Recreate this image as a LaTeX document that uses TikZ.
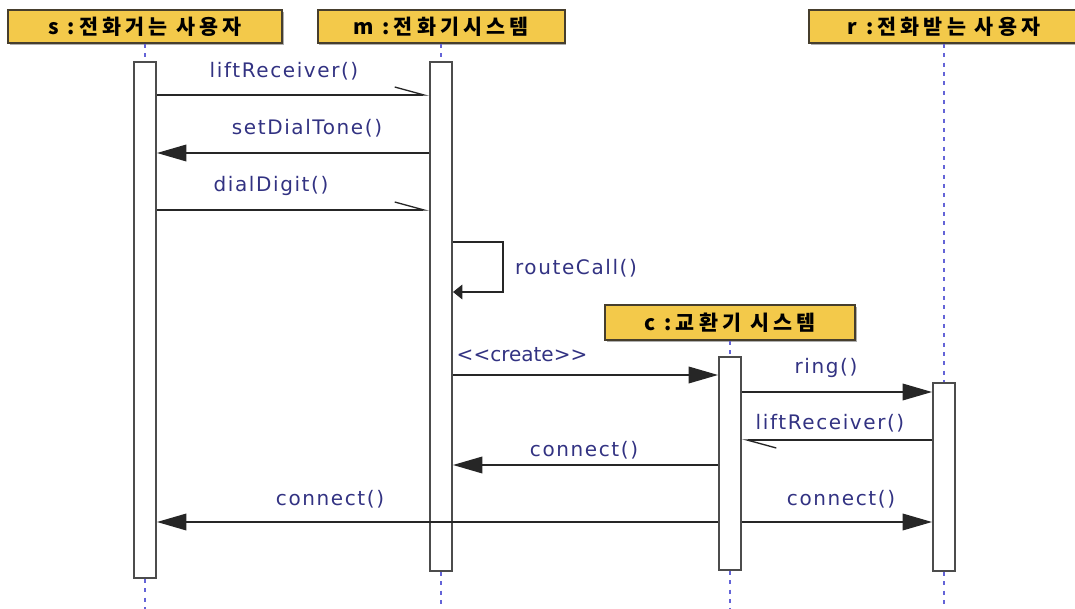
\documentclass[tikz,border=0pt]{standalone}
\usepackage{fontspec}
\setmainfont{DejaVu Sans}[LetterSpace=8]
\newfontfamily\hangulfont{Noto Sans CJK KR}[LetterSpace=20]
\usetikzlibrary{arrows.meta}
\usetikzlibrary{shadows}
\definecolor{boxyellow}{RGB}{243,201,74}
\definecolor{boxedge}{RGB}{70,62,45}
\definecolor{lifeblue}{RGB}{100,100,215}
\definecolor{msgblue}{RGB}{50,50,130}
\tikzstyle{ObjBox}=[rectangle, draw=boxedge, line width=1.5pt, fill=boxyellow, minimum height=24.75pt, inner sep=0pt, font=\hangulfont\bfseries\fontsize{15.5}{16}\selectfont, drop shadow={shadow xshift=1.2pt, shadow yshift=-1.2pt, fill=black!45, opacity=0.7}]
\tikzstyle{ActBar}=[rectangle, draw=black!70, line width=1.5pt, fill=white, minimum width=16.5pt, inner sep=0pt]
\tikzstyle{LifeLine}=[line width=1.6pt, lifeblue, dash pattern=on 3pt off 4pt]
\tikzstyle{SyncEdge}=[line width=1pt, black!85, -{Triangle[length=22pt,width=12.5pt]}]
\tikzstyle{AsyncEdge}=[line width=1pt, black!85, -{Straight Barb[harpoon,length=22pt,width=12pt]}]
\tikzstyle{SelfEdge}=[SyncEdge, -{Triangle[length=7pt,width=11pt]}]
\tikzstyle{MsgLabel}=[text=msgblue, inner sep=0pt, font=\fontsize{15}{16}\selectfont]
\tikzset{>=latex}

\begin{document}
\begin{tikzpicture}[x=0.75pt, y=-0.75pt]
\useasboundingbox (0,0) rectangle (1075,609);
\node[ObjBox, minimum width=205.5pt](sHead) at (145,26.5) {s :전화거는 사용자};
\node[ObjBox, minimum width=185.25pt](mHead) at (441,26.5) {m :전화기시스템};
\node[ObjBox, minimum width=202.5pt](rHead) at (944,26.5) {r :전화받는 사용자};
\node[ObjBox, minimum width=187.5pt, minimum height=26.25pt](cHead) at (730,322.5) {c :교환기 시스템};

\coordinate (sEnd) at (145,609);
\coordinate (mEnd) at (441,609);
\coordinate (cEnd) at (730,609);
\coordinate (rEnd) at (944,609);

\node[ActBar, minimum height=387pt](sBar) at (145,320) {};
\node[ActBar, minimum height=381.75pt](mBar) at (441,316.5) {};
\node[ActBar, minimum height=159.75pt](cBar) at (730,463.5) {};
\node[ActBar, minimum height=141pt](rBar) at (944,477) {};

\draw[LifeLine](sHead.south) -- (sBar.north);
\draw[LifeLine](sBar.south) -- (sEnd);
\draw[LifeLine](mHead.south) -- (mBar.north);
\draw[LifeLine](mBar.south) -- (mEnd);
\draw[LifeLine](cHead.south) -- (cBar.north);
\draw[LifeLine](cBar.south) -- (cEnd);
\draw[LifeLine](rHead.south) -- (rBar.north);
\draw[LifeLine](rBar.south) -- (rEnd);

\draw[AsyncEdge](sBar.east |- 0,95) -- (mBar.west |- 0,95);
\node[MsgLabel](m1) at (284,71) {liftReceiver()};
\draw[SyncEdge](mBar.west |- 0,153) -- (sBar.east |- 0,153);
\node[MsgLabel](m2) at (307,128) {setDialTone()};
\draw[AsyncEdge](sBar.east |- 0,210) -- (mBar.west |- 0,210);
\node[MsgLabel](m3) at (271,186) {dialDigit()};
\draw[SelfEdge](mBar.east |- 0,242) -- ++(50,0) -- ++(0,50) -- (mBar.east |- 0,292);
\node[MsgLabel](m4) at (576,268) {routeCall()};
\draw[SyncEdge](mBar.east |- 0,375) -- (cBar.west |- 0,375);
\node[MsgLabel, font=\fontsize{15}{16}\selectfont\addfontfeatures{LetterSpace=0}](m5) at (522,355) {<{}<create>{}>};
\draw[SyncEdge](cBar.east |- 0,392) -- (rBar.west |- 0,392);
\node[MsgLabel](m6) at (826,368) {ring()};
\draw[AsyncEdge](rBar.west |- 0,440) -- (cBar.east |- 0,440);
\node[MsgLabel](m7) at (830,423) {liftReceiver()};
\draw[SyncEdge](cBar.west |- 0,465) -- (mBar.east |- 0,465);
\node[MsgLabel](m8) at (584,450) {connect()};
\draw[SyncEdge](cBar.west |- 0,522) -- (sBar.east |- 0,522);
\node[MsgLabel](m9) at (330,499) {connect()};
\draw[SyncEdge](cBar.east |- 0,522) -- (rBar.west |- 0,522);
\node[MsgLabel](m10) at (841,499) {connect()};
\end{tikzpicture}
\end{document}
